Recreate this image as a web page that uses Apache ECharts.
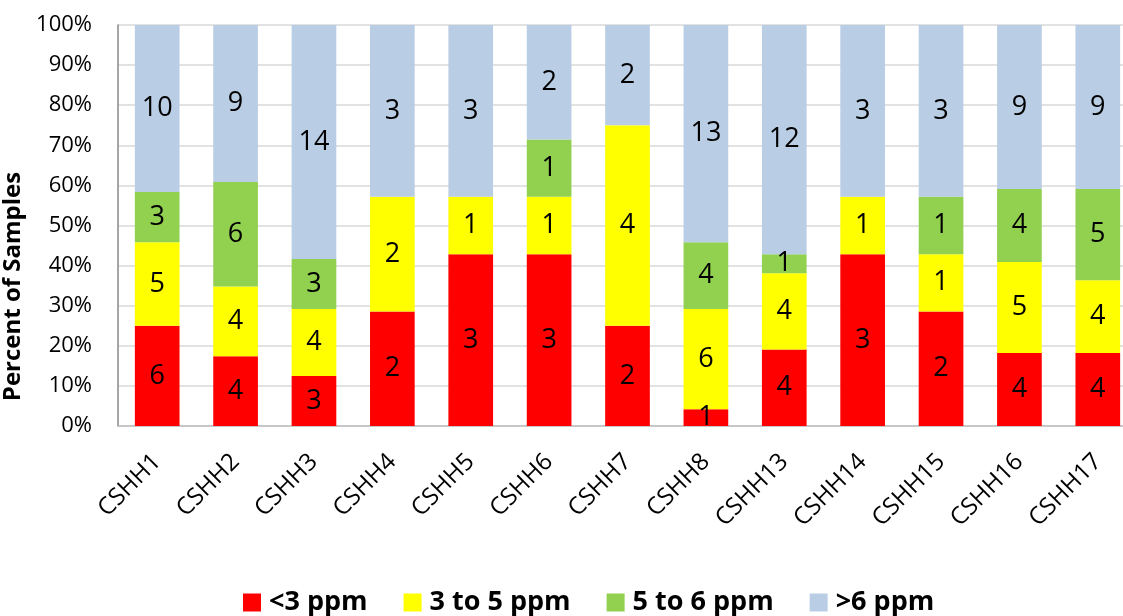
<!DOCTYPE html>
<html><head><meta charset="utf-8">
<script src="https://cdn.jsdelivr.net/npm/echarts@6/dist/echarts.min.js"></script>
<style>html,body{margin:0;padding:0;background:#fff}#c{width:1123px;height:616px}</style>
</head><body><div id="c"></div>
<script>
const categories = ['CSHH1','CSHH2','CSHH3','CSHH4','CSHH5','CSHH6','CSHH7','CSHH8','CSHH13','CSHH14','CSHH15','CSHH16','CSHH17'];
const seriesNames = ['<3 ppm','3 to 5 ppm','5 to 6 ppm','>6 ppm'];
const below3 = [6,4,3,2,3,3,2,1,4,3,2,4,4];
const from3to5 = [5,4,4,2,1,1,4,6,4,1,1,5,4];
const from5to6 = [3,6,3,0,0,1,0,4,1,0,1,4,5];
const above6 = [10,9,14,3,3,2,2,13,12,3,3,9,9];
const colors = ['#ff0000','#ffff00','#92d050','#b9cde5'];
const yTicks = [0,10,20,30,40,50,60,70,80,90,100];

const counts = [below3, from3to5, from5to6, above6];
const totals = categories.map((_, i) => counts.reduce((s, a) => s + a[i], 0));
const font = "'Open Sans', 'Noto Sans', sans-serif";

const chart = echarts.init(document.getElementById('c'));
chart.setOption({
  animation: false,
  grid: { left: 118, right: -14, top: 25, bottom: 190, outerBoundsMode: 'none', containLabel: false },
  legend: {
    top: 589, left: 243, padding: 0, itemWidth: 18, itemHeight: 18, itemGap: 36,
    icon: 'rect',
    textStyle: { fontFamily: font, fontWeight: 'bold', fontSize: 27, color: '#000', padding: [0, 0, 0, 3] },
    data: seriesNames
  },
  xAxis: {
    type: 'category', data: categories,
    axisLine: { lineStyle: { color: '#bfbfbf', width: 1.5 } },
    axisTick: { show: false },
    axisLabel: { rotate: 45, fontFamily: font, fontSize: 24, color: '#000', margin: 32, interval: 0 }
  },
  yAxis: {
    type: 'value', min: 0, max: 100, interval: 10,
    name: 'Percent of Samples', nameLocation: 'middle', nameGap: 89,
    nameTextStyle: { fontFamily: font, fontWeight: 'bold', fontSize: 24, color: '#000', padding: [0, 122, 0, 0] },
    axisLine: { show: true, lineStyle: { color: '#888', width: 1.5 } },
    axisTick: { show: false },
    splitLine: { lineStyle: { color: '#d9d9d9', width: 1.5 } },
    axisLabel: { fontFamily: font, fontSize: 22, color: '#000', margin: 26,
      formatter: v => yTicks.includes(v) ? v + '%' : '' }
  },
  series: seriesNames.map((name, k) => ({
    name, type: 'bar', stack: 'all', barWidth: '57%',
    itemStyle: { color: colors[k] },
    label: {
      show: true, position: 'inside', fontFamily: font, fontSize: 27, color: '#000',
      formatter: p => counts[k][p.dataIndex] ? String(counts[k][p.dataIndex]) : ''
    },
    data: counts[k].map((v, i) => v / totals[i] * 100)
  }))
});
</script></body></html>
